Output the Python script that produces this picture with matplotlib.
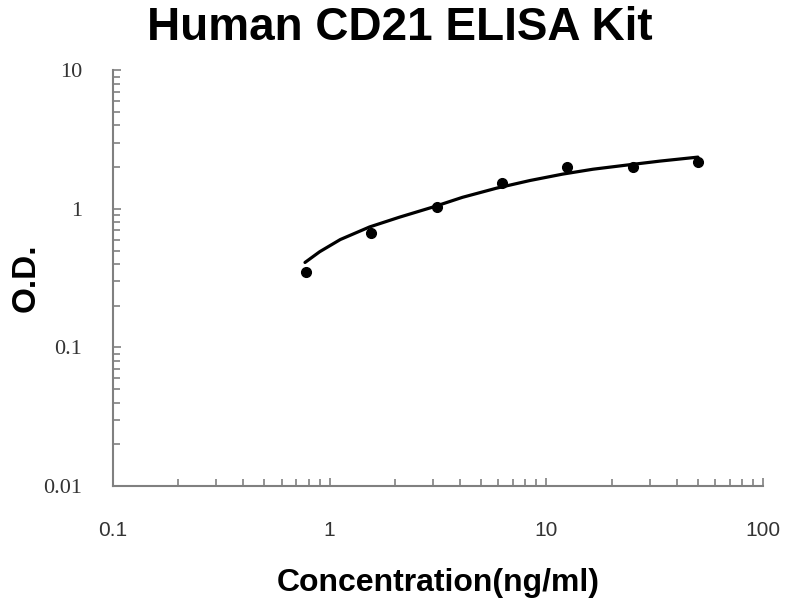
import numpy as np
import matplotlib
matplotlib.use("Agg")
import matplotlib.pyplot as plt
from matplotlib.ticker import LogLocator, FixedLocator, NullFormatter

plt.rcParams.update({"font.family": "Liberation Sans"})

# standard points (ng/ml vs O.D.)
conc = [0.78, 1.56, 3.125, 6.25, 12.5, 25, 50]
od = [0.35, 0.67, 1.03, 1.53, 2.0, 2.0, 2.17]

# fitted curve
curve_x = [0.77, 0.9, 1.12, 1.53, 2.1, 3.0, 4.1, 5.9, 8.4, 11.9, 16.4, 23.6, 33.5, 50]
curve_y = [0.41, 0.49, 0.60, 0.74, 0.87, 1.03, 1.21, 1.41, 1.60, 1.78, 1.93, 2.07, 2.21, 2.36]

x_ticks = [0.1, 1, 10, 100]
x_labels = ["0.1", "1", "10", "100"]
y_ticks = [0.01, 0.1, 1, 10]
y_labels = ["0.01", "0.1", "1", "10"]

fig = plt.figure(figsize=(8, 6), dpi=100)
ax = fig.add_axes([0.141, 0.19, 0.813, 0.693])

ax.plot(curve_x, curve_y, color="black", lw=2.3, solid_capstyle="round")
ax.plot(conc, od, "o", color="black", ms=7)

ax.set_xscale("log")
ax.set_yscale("log")
ax.set_xlim(0.1, 100)
ax.set_ylim(0.01, 10)

for s in ["top", "right"]:
    ax.spines[s].set_visible(False)
for s in ["left", "bottom"]:
    ax.spines[s].set_color("#808080")
    ax.spines[s].set_linewidth(1.5)

ax.xaxis.set_major_locator(FixedLocator(x_ticks))
ax.yaxis.set_major_locator(FixedLocator(y_ticks))
ax.xaxis.set_minor_locator(LogLocator(base=10, subs=np.arange(2, 10)))
ax.yaxis.set_minor_locator(LogLocator(base=10, subs=np.arange(2, 10)))
ax.xaxis.set_minor_formatter(NullFormatter())
ax.yaxis.set_minor_formatter(NullFormatter())
ax.set_xticklabels(x_labels)
ax.set_yticklabels(y_labels)

ax.tick_params(axis="both", which="both", direction="in", color="#808080", width=1.2)
ax.tick_params(axis="both", which="major", length=6)
ax.tick_params(axis="both", which="minor", length=5)
ax.tick_params(axis="x", which="major", pad=25, labelsize=15, labelcolor="#333333")
ax.tick_params(axis="y", which="major", pad=22, labelsize=16)
for lab in ax.get_yticklabels():
    lab.set_family("Liberation Serif")
    lab.set_color("#333333")

ax.set_xlabel("Concentration(ng/ml)", fontsize=23, fontweight="bold", labelpad=20)
ax.set_ylabel("O.D.", fontsize=24, fontweight="bold")
ax.yaxis.set_label_coords(-0.11, 0.5)
fig.text(0.5, 0.99, "Human CD21 ELISA Kit", ha="center", va="top",
         fontsize=33, fontweight="bold")

fig.savefig("out.png", dpi=100)
